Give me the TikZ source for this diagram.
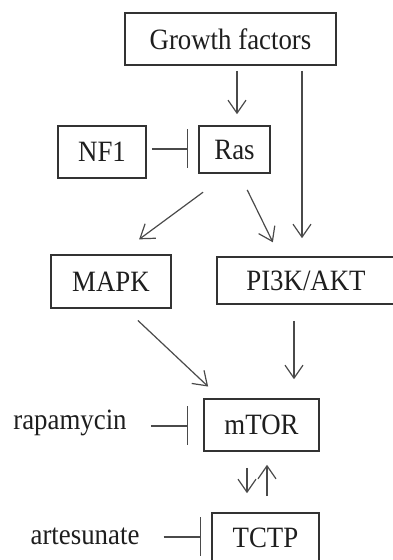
\documentclass[tikz,border=0pt]{standalone}
\usepackage{fontspec}
\setmainfont{Liberation Serif}[FakeStretch=0.91]
\usetikzlibrary{arrows.meta}
\definecolor{boxline}{HTML}{333333}
\definecolor{linkline}{HTML}{4A4A4A}
\definecolor{ink}{HTML}{1E1E1E}
\begin{document}
\begin{tikzpicture}[x=1pt,y=1pt,
  every node/.style={font=\fontsize{29.5pt}{32pt}\selectfont, text=ink},
  pbox/.style={draw=boxline, line width=1.6pt, inner sep=0pt, rectangle},
  plain/.style={inner sep=0pt},
  act/.style={draw=linkline, line width=1.2pt, -{Straight Barb[length=13pt,width=18pt,line width=1.2pt]}},
  inh/.style={draw=linkline, line width=1.2pt, -{Bar[width=39pt,line width=1.4pt]}}
]
\useasboundingbox (0,0) rectangle (393,560);
\clip (0,0) rectangle (393,560);
\fill[white] (0,0) rectangle (393,560);

% boxes
\node[pbox, minimum width=211pt, minimum height=52pt] (gf) at (230.5,521) {Growth factors};
\node[pbox, minimum width=88pt, minimum height=52pt] (nf1) at (102,408) {NF1};
\node[pbox, minimum width=71pt, minimum height=47pt] (ras) at (234.5,410.5) {Ras};
\node[pbox, minimum width=120pt, minimum height=53pt] (mapk) at (111,278.5) {MAPK};
\node[pbox, minimum width=178pt, minimum height=47pt] (pi3k) at (306,279.5) {PI3K/AKT};
\node[pbox, minimum width=115pt, minimum height=52pt] (mtor) at (261.5,135) {mTOR};
\node[pbox, minimum width=107pt, minimum height=50pt] (tctp) at (265.5,22) {TCTP};

% drug labels
\node[plain] (rapa) at (70,137) {rapamycin};
\node[plain] (arte) at (85,24) {artesunate};

% activating links
\draw[act, shorten <=5pt, shorten >=11pt] ([xshift=6.5pt]gf.south) -- ([xshift=2.5pt]ras.north);
\draw[act, shorten <=5pt, shorten >=18pt] ([xshift=71.5pt]gf.south) -- ([xshift=-4pt]pi3k.north);
\draw[act, shorten <=31pt, shorten >=25pt] ([xshift=-6.5pt]ras.south) -- ([xshift=8pt]mapk.north);
\draw[act, shorten <=18pt, shorten >=15.5pt] ([xshift=4.8pt]ras.south) -- ([xshift=-26.3pt]pi3k.north);
\draw[act, shorten <=17pt, shorten >=17pt] ([xshift=14.5pt]mapk.south) -- ([xshift=-41pt]mtor.north);
\draw[act, shorten <=16pt, shorten >=19pt] ([xshift=-12pt]pi3k.south) -- ([xshift=32.5pt]mtor.north);
\draw[act, shorten <=16pt, shorten >=19pt] ([xshift=-14.5pt]mtor.south) -- ([xshift=-18.5pt]tctp.north);
\draw[act, shorten <=16pt, shorten >=13pt] ([xshift=1.5pt]tctp.north) -- ([xshift=5.5pt]mtor.south);

% inhibiting links
\draw[inh, shorten <=5pt, shorten >=10pt] ([yshift=3pt]nf1.east) -- ([yshift=3pt]nf1.east -| ras.west);
\draw[inh, shorten <=24pt, shorten >=15pt] ([yshift=-3pt]rapa.east) -- ([yshift=-3pt]rapa.east -| mtor.west);
\draw[inh, shorten <=24pt, shorten >=10pt] ([yshift=-1pt]arte.east) -- ([yshift=-1pt]arte.east -| tctp.west);
\end{tikzpicture}
\end{document}
